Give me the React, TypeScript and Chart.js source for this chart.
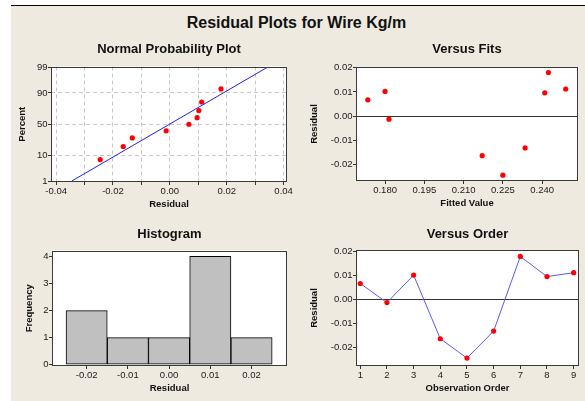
import React, { useEffect, useRef } from 'react';
import { Chart, registerables, LinearScale } from 'chart.js';

Chart.register(...registerables);

// ---------------- data ----------------
const OBS_ORDER = [1, 2, 3, 4, 5, 6, 7, 8, 9];
const RESIDUALS = [0.0067, -0.0013, 0.0102, -0.0164, -0.0245, -0.0132, 0.018, 0.0096, 0.0112];
const FITTED = [0.1734, 0.1815, 0.18, 0.2171, 0.225, 0.2335, 0.2424, 0.241, 0.249];
const NORMAL_PERCENT = [7.4, 18.1, 28.7, 39.4, 50, 60.6, 71.3, 81.9, 92.6];
const FIT_LINE_X = [-0.0345, 0.0342];
const FIT_LINE_P = [1, 99];
const HIST_BINS = [-0.02, -0.01, 0, 0.01, 0.02];
const HIST_COUNTS = [2, 1, 1, 4, 1];

const NPP_X_TICKS = [-0.04, -0.03, -0.02, -0.01, 0, 0.01, 0.02, 0.03, 0.04];
const NPP_Y_TICKS = [1, 10, 50, 90, 99];
const FITS_X_TICKS = [0.18, 0.195, 0.21, 0.225, 0.24];
const RESID_TICKS = [-0.02, -0.01, 0, 0.01, 0.02];
const HIST_Y_TICKS = [0, 1, 2, 3, 4];

const MAIN_TITLE = 'Residual Plots for Wire Kg/m';
const FONT = '"Liberation Sans", Arial, sans-serif';
const BG = '#EEEAE0';

// ---------------- normal probability scale ----------------
function qnorm(p: number): number {
  const a = [-39.69683028665376, 220.9460984245205, -275.9285104469687, 138.357751867269, -30.66479806614716, 2.506628277459239];
  const b = [-54.47609879822406, 161.5858368580409, -155.6989798598866, 66.80131188771972, -13.28068155288572];
  const c = [-0.007784894002430293, -0.3223964580411365, -2.400758277161838, -2.549732539343734, 4.374664141464968, 2.938163982698783];
  const d = [0.007784695709041462, 0.3224671290700398, 2.445134137142996, 3.754408661907416];
  const pl = 0.02425;
  if (p < pl) {
    const q = Math.sqrt(-2 * Math.log(p));
    return (((((c[0] * q + c[1]) * q + c[2]) * q + c[3]) * q + c[4]) * q + c[5]) / ((((d[0] * q + d[1]) * q + d[2]) * q + d[3]) * q + 1);
  }
  if (p > 1 - pl) {
    const q = Math.sqrt(-2 * Math.log(1 - p));
    return -(((((c[0] * q + c[1]) * q + c[2]) * q + c[3]) * q + c[4]) * q + c[5]) / ((((d[0] * q + d[1]) * q + d[2]) * q + d[3]) * q + 1);
  }
  const q = p - 0.5;
  const r = q * q;
  return (((((a[0] * r + a[1]) * r + a[2]) * r + a[3]) * r + a[4]) * r + a[5]) * q / (((((b[0] * r + b[1]) * r + b[2]) * r + b[3]) * r + b[4]) * r + 1);
}

class ProbabilityScale extends LinearScale {
  static id = 'probability';
  static defaults = LinearScale.defaults;
  getPixelForValue(value: number) {
    const z0 = qnorm((this as any).min / 100);
    const z1 = qnorm((this as any).max / 100);
    return this.getPixelForDecimal((qnorm(value / 100) - z0) / (z1 - z0));
  }
  getValueForPixel(pixel: number) {
    const z0 = qnorm((this as any).min / 100);
    const z1 = qnorm((this as any).max / 100);
    const z = z0 + this.getDecimalForPixel(pixel) * (z1 - z0);
    let lo = 0.0001, hi = 99.9999;
    for (let i = 0; i < 60; i++) {
      const mid = (lo + hi) / 2;
      if (qnorm(mid / 100) < z) lo = mid; else hi = mid;
    }
    return (lo + hi) / 2;
  }
}
Chart.register(ProbabilityScale as any);

// ---------------- helpers ----------------
const framePlugin = {
  id: 'frame',
  beforeDraw(chart: any) {
    const { ctx, chartArea: a } = chart;
    ctx.save();
    ctx.fillStyle = '#FFFFFF';
    ctx.fillRect(a.left, a.top, a.right - a.left, a.bottom - a.top);
    ctx.restore();
  },
  afterDraw(chart: any) {
    const { ctx, chartArea: a } = chart;
    ctx.save();
    ctx.strokeStyle = '#3a3a3a';
    ctx.lineWidth = 1;
    const l = Math.round(a.left) + 0.5, t = Math.round(a.top) + 0.5;
    const r = Math.round(a.right) - 0.5, b = Math.round(a.bottom) - 0.5;
    ctx.strokeRect(l, t, r - l, b - t);
    ctx.restore();
  },
};

type AxisSpec = {
  type?: string;
  min: number;
  max: number;
  ticks: number[];
  fmt: (v: number) => string;
  title: string;
  titlePad: number;
  isY: boolean;
  size: number;
  gridColor?: any;
  dash?: number[];
};

function axis(s: AxisSpec) {
  return {
    type: s.type || 'linear',
    min: s.min,
    max: s.max,
    offset: false,
    afterBuildTicks: (sc: any) => {
      sc.ticks = s.ticks.map((v) => ({ value: v }));
    },
    afterFit: (sc: any) => {
      if (s.isY) sc.width = s.size;
      else sc.height = s.size;
    },
    ticks: {
      autoSkip: false,
      maxRotation: 0,
      minRotation: 0,
      padding: s.isY ? 0.5 : 0.8,
      color: '#1a1a1a',
      font: { family: FONT, size: 9.5 },
      callback: (v: number) => s.fmt(v),
    },
    grid: {
      offset: false,
      drawOnChartArea: !!s.gridColor,
      color: s.gridColor || 'transparent',
      tickColor: '#333',
      tickLength: 3,
      tickWidth: 1,
      tickBorderDash: [],
    },
    border: { display: false, dash: s.dash || [] },
    title: {
      display: true,
      text: s.title,
      color: '#111',
      font: { family: FONT, size: 9.5, weight: 'bold' },
      padding: s.isY ? { top: s.titlePad, bottom: 0 } : { top: 0, bottom: s.titlePad },
    },
  };
}

function titleOpts(text: string, canvasTop: number, titleMid: number, plotTop: number) {
  const lh = 13 * 1.2;
  const top = titleMid - canvasTop - lh / 2;
  const bottom = plotTop - canvasTop - top - lh;
  return {
    display: true,
    text,
    fullSize: false,
    color: '#111',
    font: { family: FONT, size: 13, weight: 'bold' },
    padding: { top, bottom },
  };
}

const zeroLine = (ctx: any) => (ctx.tick && ctx.tick.value === 0 ? '#333' : 'transparent');
const fmt2 = (v: number) => v.toFixed(2);

type PanelProps = { left: number; top: number; width: number; height: number; make: () => any };

function Panel({ left, top, width, height, make }: PanelProps) {
  const ref = useRef<HTMLCanvasElement>(null);
  useEffect(() => {
    const chart = new Chart(ref.current as HTMLCanvasElement, make());
    return () => chart.destroy();
  }, []);
  return (
    <canvas
      ref={ref}
      width={width}
      height={height}
      style={{ position: 'absolute', left, top, width, height }}
    />
  );
}

function commonOptions(title: any, padRight: number, x: any, y: any) {
  return {
    responsive: false,
    animation: false,
    events: [],
    layout: { padding: { left: 0, right: padRight, top: 0, bottom: 0 } },
    plugins: { legend: { display: false }, tooltip: { enabled: false }, title },
    scales: { x, y },
  };
}

// ---------------- panels ----------------
const P1 = { left: 0, top: 35, width: 320, plotLeft: 51, plotRight: 287, plotTop: 66.5, plotBottom: 182, titleMid: 49 };
const P2 = { left: 290, top: 35, width: 295, plotLeft: 356, plotRight: 578, plotTop: 67, plotBottom: 181, titleMid: 49 };
const P3 = { left: 0, top: 218, width: 320, plotLeft: 52, plotRight: 287, plotTop: 250.5, plotBottom: 366, titleMid: 234 };
const P4 = { left: 290, top: 218, width: 295, plotLeft: 356, plotRight: 579, plotTop: 250, plotBottom: 366, titleMid: 234 };
const X_H = 30;
const h = (p: any) => p.plotBottom + X_H - p.top;

function makeNormal() {
  const sorted = [...RESIDUALS].sort((a, b) => a - b);
  return {
    type: 'scatter',
    data: {
      datasets: [
        {
          type: 'line',
          data: FIT_LINE_X.map((x, i) => ({ x, y: FIT_LINE_P[i] })),
          borderColor: '#2020F0',
          borderWidth: 1,
          pointRadius: 0,
          fill: false,
        },
        {
          data: sorted.map((x, i) => ({ x, y: NORMAL_PERCENT[i] })),
          backgroundColor: '#FF0000',
          borderWidth: 0,
          pointRadius: 2.6,
        },
      ],
    },
    options: commonOptions(
      titleOpts('Normal Probability Plot', P1.top, P1.titleMid, P1.plotTop),
      P1.left + P1.width - P1.plotRight,
      axis({
        min: -0.0418, max: 0.0412, ticks: NPP_X_TICKS,
        fmt: (v) => (Math.round(v * 100) % 2 === 0 ? v.toFixed(2) : ''),
        title: 'Residual', titlePad: 1.8, isY: false, size: X_H, gridColor: '#C8C8C8', dash: [4, 3],
      }),
      axis({
        type: 'probability', min: 0.9, max: 99.1, ticks: NPP_Y_TICKS,
        fmt: (v) => String(v), title: 'Percent', titlePad: 16.8, isY: true,
        size: P1.plotLeft - P1.left, gridColor: '#C8C8C8', dash: [4, 3],
      })
    ),
    plugins: [framePlugin],
  };
}

function makeFits() {
  return {
    type: 'scatter',
    data: {
      datasets: [
        {
          data: FITTED.map((x, i) => ({ x, y: RESIDUALS[i] })),
          backgroundColor: '#FF0000',
          borderWidth: 0,
          pointRadius: 2.6,
        },
      ],
    },
    options: commonOptions(
      titleOpts('Versus Fits', P2.top, P2.titleMid, P2.plotTop),
      P2.left + P2.width - P2.plotRight,
      axis({
        min: 0.1689, max: 0.2537, ticks: FITS_X_TICKS, fmt: (v) => v.toFixed(3),
        title: 'Fitted Value', titlePad: 1.8, isY: false, size: X_H,
      }),
      axis({
        min: -0.0269, max: 0.0203, ticks: RESID_TICKS, fmt: fmt2,
        title: 'Residual', titlePad: 18.3, isY: true, size: P2.plotLeft - P2.left, gridColor: zeroLine,
      })
    ),
    plugins: [framePlugin],
  };
}

function makeHist() {
  return {
    type: 'bar',
    data: {
      datasets: [
        {
          data: HIST_BINS.map((x, i) => ({ x, y: HIST_COUNTS[i] })),
          backgroundColor: '#C0C0C0',
          borderColor: '#000000',
          borderWidth: 1,
          borderSkipped: false,
          barPercentage: 1,
          categoryPercentage: 1,
        },
      ],
    },
    options: commonOptions(
      titleOpts('Histogram', P3.top, P3.titleMid, P3.plotTop),
      P3.left + P3.width - P3.plotRight,
      axis({
        min: -0.0284, max: 0.0286, ticks: HIST_BINS, fmt: fmt2,
        title: 'Residual', titlePad: 1.8, isY: false, size: X_H,
      }),
      axis({
        min: -0.05, max: 4.22, ticks: HIST_Y_TICKS, fmt: (v) => String(v),
        title: 'Frequency', titlePad: 23.3, isY: true, size: P3.plotLeft - P3.left,
      })
    ),
    plugins: [framePlugin],
  };
}

function makeOrder() {
  return {
    type: 'line',
    data: {
      datasets: [
        {
          data: OBS_ORDER.map((x, i) => ({ x, y: RESIDUALS[i] })),
          borderColor: '#5A5AF5',
          borderWidth: 1,
          pointRadius: 2.6,
          pointBackgroundColor: '#FF0000',
          pointBorderWidth: 0,
          fill: false,
          tension: 0,
        },
      ],
    },
    options: commonOptions(
      titleOpts('Versus Order', P4.top, P4.titleMid, P4.plotTop),
      P4.left + P4.width - P4.plotRight,
      axis({
        min: 0.84, max: 9.2, ticks: OBS_ORDER, fmt: (v) => String(v),
        title: 'Observation Order', titlePad: 1.8, isY: false, size: X_H,
      }),
      axis({
        min: -0.0278, max: 0.0207, ticks: RESID_TICKS, fmt: fmt2,
        title: 'Residual', titlePad: 18.3, isY: true, size: P4.plotLeft - P4.left, gridColor: zeroLine,
      })
    ),
    plugins: [framePlugin],
  };
}

export default function App() {
  return (
    <div
      style={{
        position: 'fixed',
        left: 0,
        top: 0,
        width: 585,
        height: 401,
        overflow: 'hidden',
        background: '#FFFFFF',
      }}
    >
      <div style={{ position: 'absolute', left: 11, top: 5, width: 574, height: 1, background: '#000' }} />
      <div style={{ position: 'absolute', left: 11, top: 6, width: 574, height: 395, background: BG }} />
      <div
        style={{
          position: 'absolute',
          left: 11,
          top: 13,
          width: 574,
          textAlign: 'center',
          font: `bold 16px ${FONT}`,
          lineHeight: '20px',
          color: '#111',
          paddingRight: 3,
          boxSizing: 'border-box',
        }}
      >
        {MAIN_TITLE}
      </div>
      <Panel left={P1.left} top={P1.top} width={P1.width} height={h(P1)} make={makeNormal} />
      <Panel left={P2.left} top={P2.top} width={P2.width} height={h(P2)} make={makeFits} />
      <Panel left={P3.left} top={P3.top} width={P3.width} height={h(P3)} make={makeHist} />
      <Panel left={P4.left} top={P4.top} width={P4.width} height={h(P4)} make={makeOrder} />
    </div>
  );
}
